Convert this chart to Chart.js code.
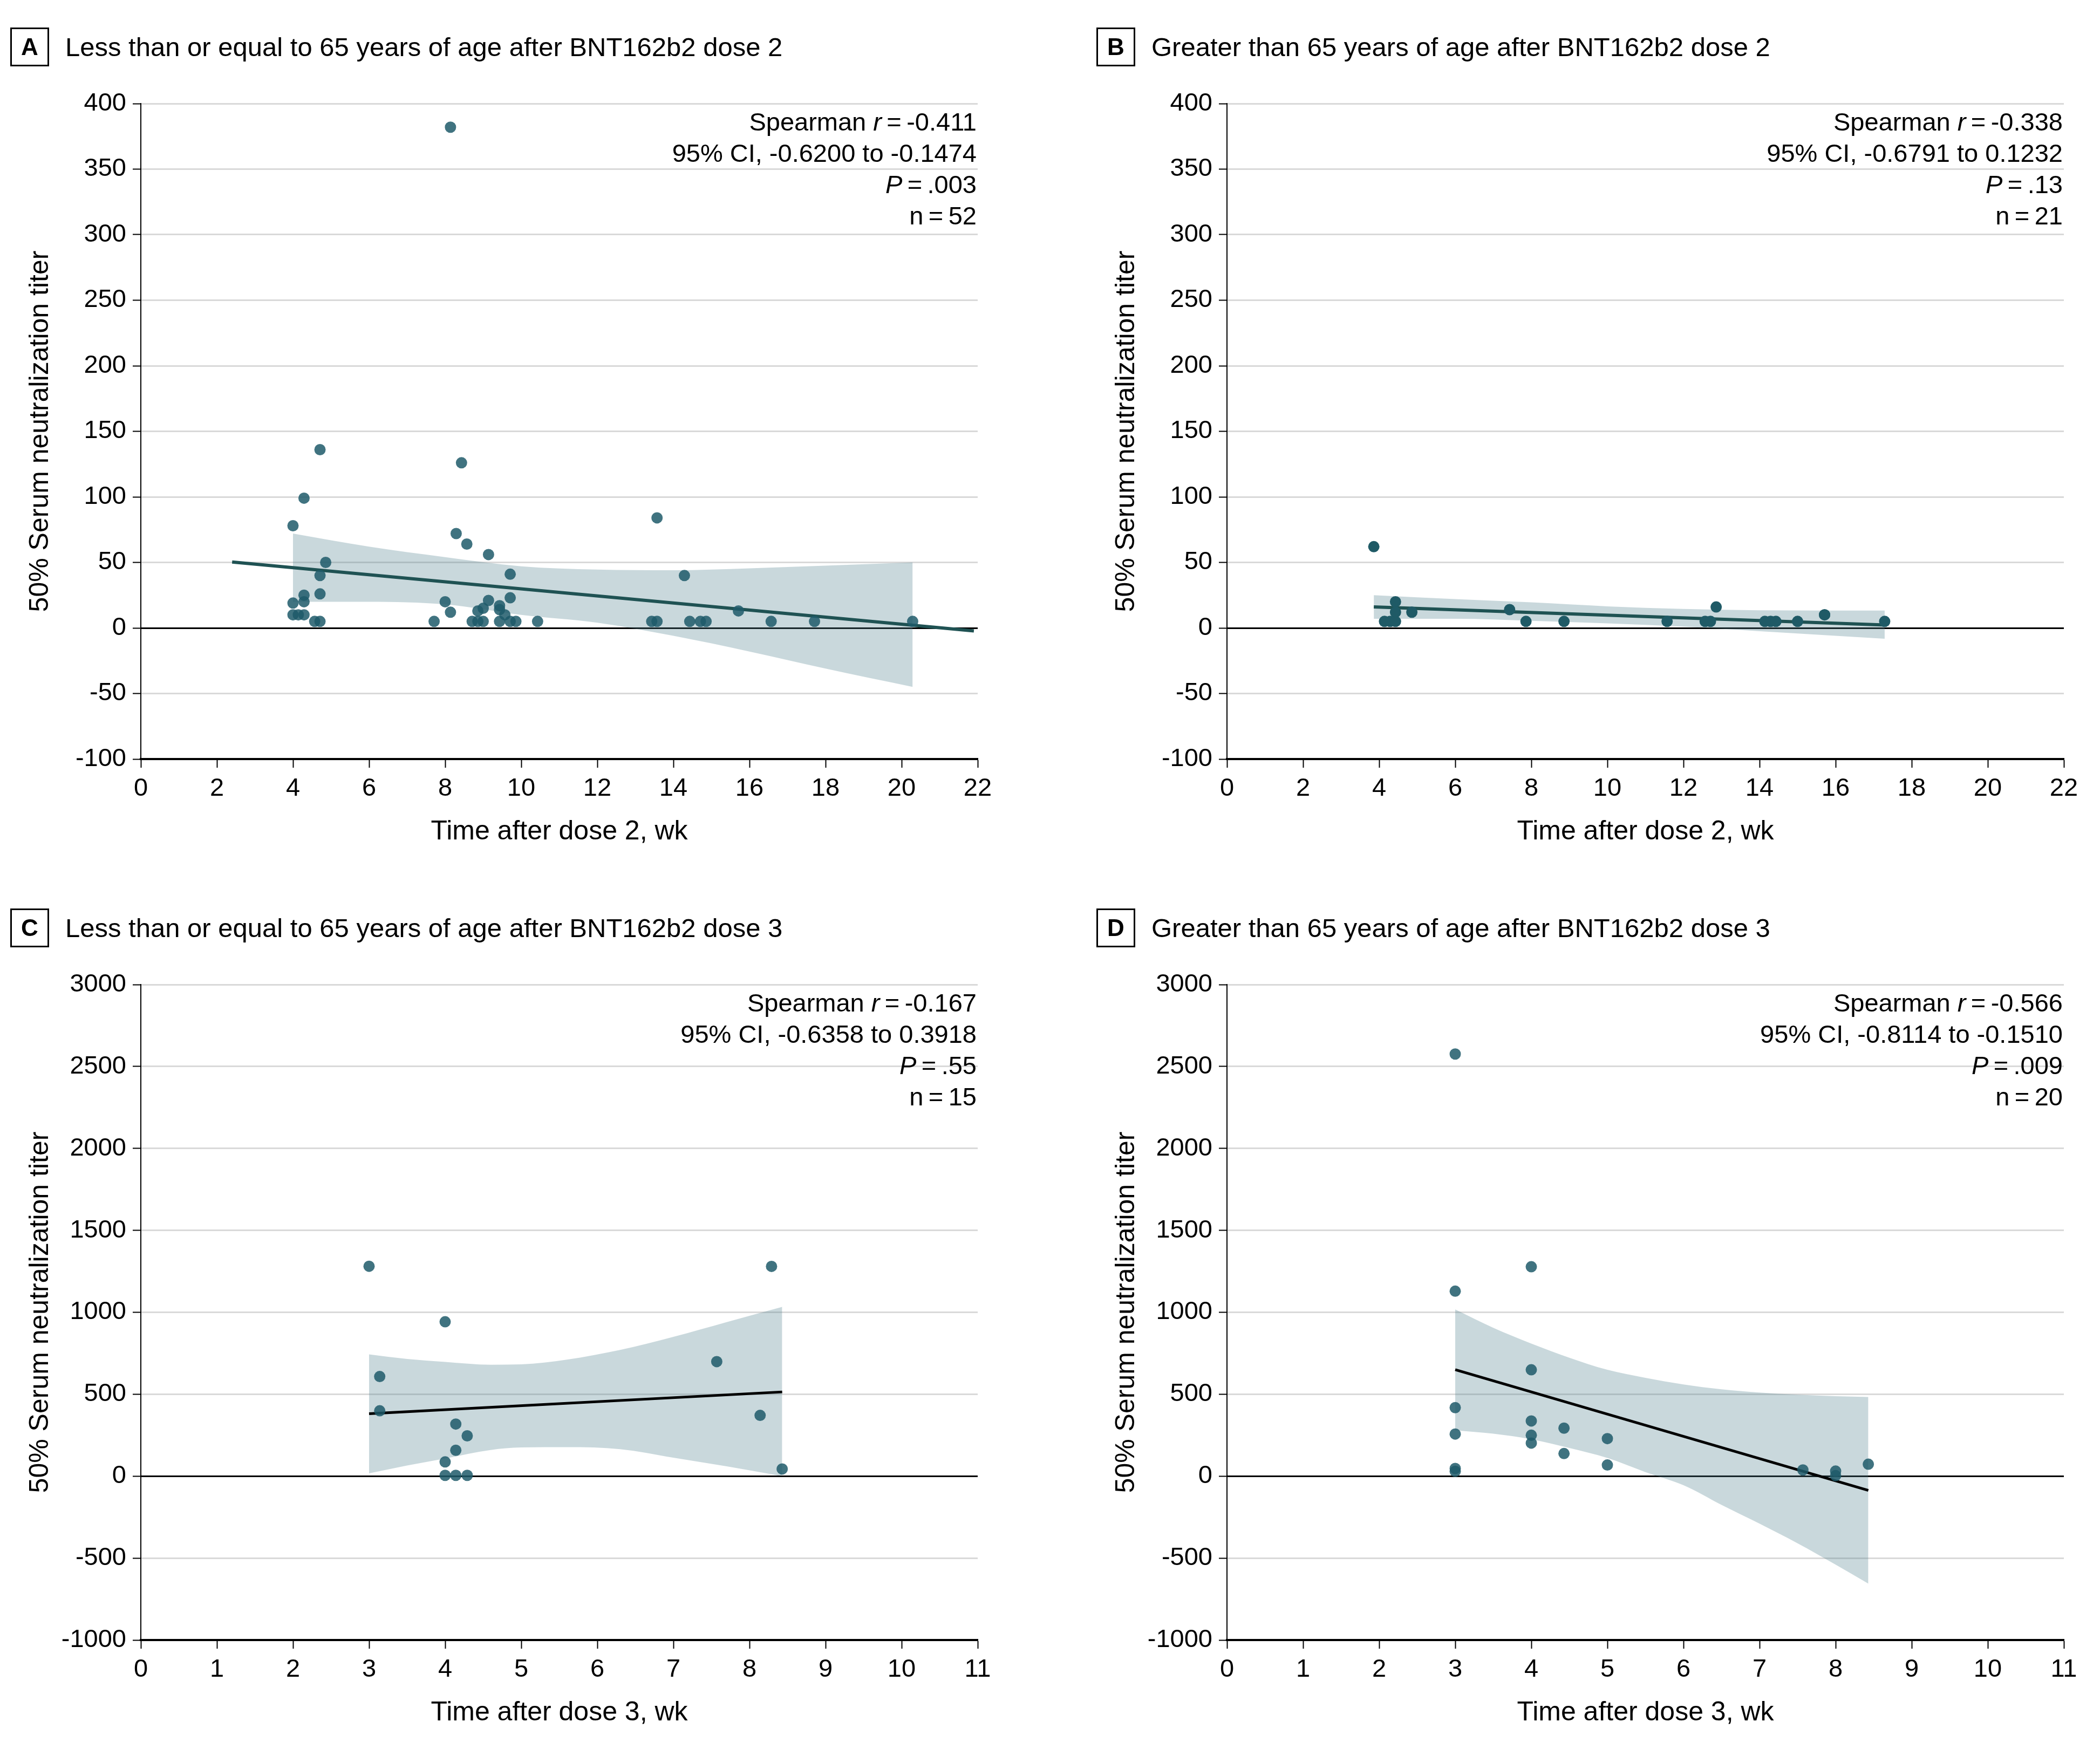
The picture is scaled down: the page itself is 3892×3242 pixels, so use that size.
<!DOCTYPE html>
<html><head><meta charset="utf-8">
<script src="https://cdn.jsdelivr.net/npm/chart.js@4.4.1/dist/chart.umd.min.js"></script>
<style>
html,body{margin:0;padding:0;background:#fff;}
body{width:3892px;height:3242px;position:relative;overflow:hidden;font-family:"Liberation Sans",Arial,sans-serif;color:#000;}
.panel{position:absolute;width:1950px;height:1600px;}
.panel canvas{position:absolute;left:0;top:0;}
.ptitle{position:absolute;left:19px;top:51px;height:72px;display:flex;align-items:center;white-space:nowrap;}
.pbox{box-sizing:border-box;width:72px;height:72px;border:3px solid #000;font-weight:bold;font-size:44px;display:flex;align-items:center;justify-content:center;}
.ptext{margin-left:30px;font-size:49px;}
.stats{position:absolute;right:140px;top:197px;text-align:right;font-size:47px;line-height:58px;white-space:nowrap;}
</style></head>
<body>
<script>
const FONT = '"Liberation Sans", Arial, sans-serif';

// ---- Panel titles and stats ----
const panelLetters = ['A', 'B', 'C', 'D'];
const panelTitles = [
  'Less than or equal to 65 years of age after BNT162b2 dose 2',
  'Greater than 65 years of age after BNT162b2 dose 2',
  'Less than or equal to 65 years of age after BNT162b2 dose 3',
  'Greater than 65 years of age after BNT162b2 dose 3'
];
const spearmanR = ['-0.411', '-0.338', '-0.167', '-0.566'];
const ciText = ['-0.6200 to -0.1474', '-0.6791 to 0.1232', '-0.6358 to 0.3918', '-0.8114 to -0.1510'];
const pText = ['.003', '.13', '.55', '.009'];
const nText = ['52', '21', '15', '20'];
const xTitles = ['Time after dose 2, wk', 'Time after dose 2, wk', 'Time after dose 3, wk', 'Time after dose 3, wk'];
const yTitle = '50% Serum neutralization titer';

// ---- Tick labels ----
const xTicksDose2 = [0, 2, 4, 6, 8, 10, 12, 14, 16, 18, 20, 22];
const yTicksDose2 = [-100, -50, 0, 50, 100, 150, 200, 250, 300, 350, 400];
const xTicksDose3 = [0, 1, 2, 3, 4, 5, 6, 7, 8, 9, 10, 11];
const yTicksDose3 = [-1000, -500, 0, 500, 1000, 1500, 2000, 2500, 3000];

// ---- Panel A data ----
const aX = [4.71, 8.43, 4.29, 4.0, 8.29, 8.57, 9.14, 4.86, 4.71, 9.71, 4.71, 9.71, 4.29, 4.29, 4.0, 8.0, 9.14, 9.43, 9.43, 9.0, 8.86, 8.14, 9.57, 4.0, 4.14, 4.29, 8.14,
  4.57, 4.71, 7.71, 8.71, 8.86, 9.0, 9.43, 9.71, 9.86, 10.43,
  13.57, 14.29, 15.71,
  13.43, 13.57, 14.43, 14.71, 14.86, 16.57, 17.71, 20.29];
const aY = [136, 126, 99, 78, 72, 64, 56, 50, 40, 41, 26, 23, 25, 20, 19, 20, 21, 17, 14, 15, 13, 12, 10, 10, 10, 10, 382,
  5, 5, 5, 5, 5, 5, 5, 5, 5, 5,
  84, 40, 13,
  5, 5, 5, 5, 5, 5, 5, 5];
const aLineX = [2.4, 21.9];
const aLineY = [50.3, -2.3];
const aBandX = [4.0, 6, 8, 10, 12, 14, 16, 18, 20.29];
const aBandUpper = [72, 62, 54, 47, 44.5, 44, 45.5, 47.5, 50];
const aBandLower = [20, 20, 18, 10, 4, -6, -18, -31, -45];

// ---- Panel B data ----
const bX = [3.86, 4.43, 4.43, 4.86, 4.14, 4.29, 4.43, 7.43, 7.86, 8.86, 11.57, 12.57, 12.71, 12.86, 14.14, 14.29, 14.43, 15.0, 15.71, 15.71, 17.29];
const bY = [62, 20, 12, 12, 5, 5, 5, 14, 5, 5, 5, 5, 5, 16, 5, 5, 5, 5, 10, 10, 5];
const bLineX = [3.86, 17.29];
const bLineY = [16, 2.3];
const bBandX = [3.86, 6, 8, 10, 12, 14, 17.29];
const bBandUpper = [25, 22, 19.5, 16.5, 14.5, 13.5, 13.3];
const bBandLower = [7, 7, 5.5, 3.5, 1, -2.5, -8.2];

// ---- Panel C data ----
const cX = [3.0, 4.0, 3.14, 3.14, 4.14, 4.29, 4.14, 4.0, 4.0, 4.14, 4.29, 8.29, 7.57, 8.14, 8.43];
const cY = [1281, 942, 608, 399, 318, 246, 158, 87, 5, 5, 5, 1280, 699, 371, 44];
const cLineX = [3.0, 8.43];
const cLineY = [381, 514];
const cBandX = [3.0, 3.5, 4.0, 4.6, 5.0, 5.6, 6.3, 7.0, 7.7, 8.43];
const cBandUpper = [743, 715, 697, 680, 682, 711, 770, 850, 940, 1033];
const cBandLower = [17, 65, 108, 160, 175, 177, 165, 113, 60, 0];

// ---- Panel D data ----
const dX = [3.0, 4.0, 3.0, 4.0, 3.0, 4.0, 4.43, 3.0, 4.0, 4.0, 5.0, 4.43, 5.0, 3.0, 3.0, 7.57, 8.0, 8.0, 8.43];
const dY = [2576, 1278, 1129, 649, 418, 337, 293, 257, 250, 202, 229, 138, 68, 47, 30, 38, 31, 3, 73];
const dLineX = [3.0, 8.43];
const dLineY = [650, -87];
const dBandX = [3.0, 3.5, 4.0, 4.5, 5.0, 5.5, 6.0, 6.5, 7.0, 7.5, 8.0, 8.43];
const dBandUpper = [1017, 905, 809, 723, 649, 600, 560, 530, 510, 497, 488, 483];
const dBandLower = [280, 259, 225, 172, 111, 25, -55, -175, -290, -410, -540, -656];

const zip = (xs, ys) => xs.map((x, i) => ({x: x, y: ys[i]}));

const panels = [
  {pts: zip(aX, aY), line: zip(aLineX, aLineY), up: zip(aBandX, aBandUpper), lo: zip(aBandX, aBandLower),
   xTicks: xTicksDose2, yTicks: yTicksDose2, ptColor: 'rgba(30,91,106,0.85)', lineColor: '#1f5253', lineW: 6},
  {pts: zip(bX, bY), line: zip(bLineX, bLineY), up: zip(bBandX, bBandUpper), lo: zip(bBandX, bBandLower),
   xTicks: xTicksDose2, yTicks: yTicksDose2, ptColor: 'rgba(31,90,102,1)', lineColor: '#1f5253', lineW: 6},
  {pts: zip(cX, cY), line: zip(cLineX, cLineY), up: zip(cBandX, cBandUpper), lo: zip(cBandX, cBandLower),
   xTicks: xTicksDose3, yTicks: yTicksDose3, ptColor: 'rgba(30,91,106,0.85)', lineColor: '#000', lineW: 5},
  {pts: zip(dX, dY), line: zip(dLineX, dLineY), up: zip(dBandX, dBandUpper), lo: zip(dBandX, dBandLower),
   xTicks: xTicksDose3, yTicks: yTicksDose3, ptColor: 'rgba(30,91,106,0.85)', lineColor: '#000', lineW: 5}
];

const PANEL_W = 1950, PANEL_H = 1600;
const offsets = [[0, 0], [2013, 0], [0, 1633], [2013, 1633]];

panels.forEach((p, i) => {
  const div = document.createElement('div');
  div.className = 'panel';
  div.style.left = offsets[i][0] + 'px';
  div.style.top = offsets[i][1] + 'px';
  const cv = document.createElement('canvas');
  cv.width = PANEL_W; cv.height = PANEL_H;
  cv.style.width = PANEL_W + 'px'; cv.style.height = PANEL_H + 'px';
  div.appendChild(cv);

  const t = document.createElement('div');
  t.className = 'ptitle';
  t.innerHTML = '<div class="pbox">' + panelLetters[i] + '</div><div class="ptext">' + panelTitles[i] + '</div>';
  div.appendChild(t);

  const s = document.createElement('div');
  s.className = 'stats';
  s.innerHTML = 'Spearman <i>r</i>\u2009=\u2009' + spearmanR[i] + '<br>95% CI, ' + ciText[i] +
    '<br><i>P</i>\u2009=\u2009' + pText[i] + '<br>n\u2009=\u2009' + nText[i];
  div.appendChild(s);
  document.body.appendChild(div);

  const yMin = p.yTicks[0], yMax = p.yTicks[p.yTicks.length - 1];
  const xMin = p.xTicks[0], xMax = p.xTicks[p.xTicks.length - 1];

  new Chart(cv, {
    type: 'scatter',
    data: {
      datasets: [
        {data: p.pts, pointRadius: 10.5, pointBackgroundColor: p.ptColor, backgroundColor: p.ptColor,
         pointBorderWidth: 0, pointBorderColor: 'rgba(0,0,0,0)', order: 0},
        {data: p.line, showLine: true, borderColor: p.lineColor, borderWidth: p.lineW, pointRadius: 0, fill: false, order: 1},
        {data: p.up, showLine: true, borderColor: 'rgba(0,0,0,0)', borderWidth: 0, pointRadius: 0,
         cubicInterpolationMode: 'monotone', fill: '+1', backgroundColor: 'rgba(75,125,138,0.3)', order: 2},
        {data: p.lo, showLine: true, borderColor: 'rgba(0,0,0,0)', borderWidth: 0, pointRadius: 0,
         cubicInterpolationMode: 'monotone', fill: false, order: 3}
      ]
    },
    options: {
      responsive: false,
      devicePixelRatio: 1,
      animation: false,
      events: [],
      layout: {padding: {left: 0, top: 192, right: PANEL_W - 1812, bottom: 0}, autoPadding: false},
      plugins: {legend: {display: false}, tooltip: {enabled: false}, title: {display: false}},
      scales: {
        x: {
          type: 'linear', min: xMin, max: xMax,
          afterBuildTicks: sc => { sc.ticks = p.xTicks.map(v => ({value: v})); },
          afterFit: sc => { sc.height = PANEL_H - 1407; },
          ticks: {font: {size: 47, family: FONT}, color: '#000', padding: 11, maxRotation: 0, autoSkip: false,
                  callback: v => String(v)},
          grid: {drawOnChartArea: false, drawTicks: true, tickLength: 16, tickColor: '#000', tickWidth: 2, color: '#000'},
          border: {display: true, color: '#000', width: 4},
          title: {display: true, text: xTitles[i], font: {size: 50, family: FONT, lineHeight: 1.2}, color: '#000',
                  padding: {top: 0, bottom: 28}}
        },
        y: {
          type: 'linear', min: yMin, max: yMax,
          afterBuildTicks: sc => { sc.ticks = p.yTicks.map(v => ({value: v})); },
          afterFit: sc => { sc.width = 261; },
          ticks: {font: {size: 47, family: FONT}, color: '#000', padding: 12, autoSkip: false,
                  callback: v => String(v)},
          grid: {drawOnChartArea: true, drawTicks: true, tickLength: 15, tickColor: '#000', tickWidth: 2,
                 color: c => (c.tick && (c.tick.value === 0 || c.tick.value === yMin)) ? '#000' : '#d9d9d9',
                 lineWidth: 3},
          border: {display: true, color: '#000', width: 2},
          title: {display: true, text: yTitle, font: {size: 50, family: FONT, lineHeight: 1.2}, color: '#000',
                  padding: {top: 45, bottom: 0}}
        }
      }
    }
  });
});
</script>
</body></html>
